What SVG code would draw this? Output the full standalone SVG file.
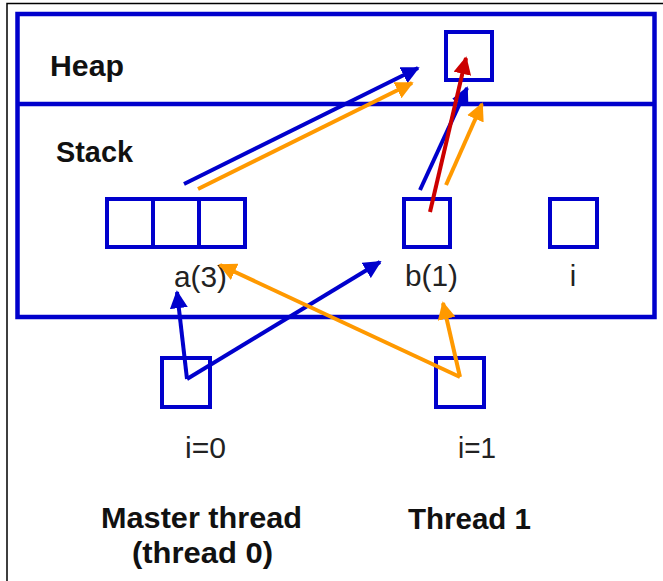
<svg xmlns="http://www.w3.org/2000/svg" width="663" height="581" viewBox="0 0 663 581">
<style>
.box{fill:none;stroke:#0000CC;stroke-width:4}
.frame{fill:none;stroke:#0000CC;stroke-width:4.5}
.lbl{font-family:"Liberation Sans",Arial,sans-serif;font-size:29px;fill:#222}
.bold{font-family:"Liberation Sans",Arial,sans-serif;font-size:29px;font-weight:bold;fill:#111}
.b{stroke:#0000CC;stroke-width:4;fill:none}
.o{stroke:#FF9900;stroke-width:4;fill:none}
.r{stroke:#CC0000;stroke-width:4;fill:none}
</style>
<defs>
<marker id="mb" viewBox="0 0 10 10" refX="9" refY="5" markerWidth="4.5" markerHeight="4.5" orient="auto" markerUnits="strokeWidth"><path d="M0,0L10,5L0,10z" fill="#0000CC"/></marker>
<marker id="mo" viewBox="0 0 10 10" refX="9" refY="5" markerWidth="4.5" markerHeight="4.5" orient="auto" markerUnits="strokeWidth"><path d="M0,0L10,5L0,10z" fill="#FF9900"/></marker>
<marker id="mr" viewBox="0 0 10 10" refX="9" refY="5" markerWidth="4.5" markerHeight="4.5" orient="auto" markerUnits="strokeWidth"><path d="M0,0L10,5L0,10z" fill="#CC0000"/></marker>
</defs>
<rect x="0" y="0" width="663" height="581" fill="#fff"/>
<rect x="7" y="3.5" width="700" height="620" fill="none" stroke="#000" stroke-width="1.5"/>
<g id="memory">
<rect class="frame" x="17.5" y="14" width="637" height="303"/>
<line class="frame" x1="17.5" y1="104" x2="654.5" y2="104"/>
<text class="bold" x="50" y="76" textLength="74" lengthAdjust="spacingAndGlyphs">Heap</text>
<text class="bold" x="56" y="162" textLength="77" lengthAdjust="spacingAndGlyphs">Stack</text>
</g>
<g id="heap-obj"><rect class="box" x="446" y="32" width="46" height="48"/></g>
<g id="a"><rect class="box" x="107" y="199" width="46" height="48"/><rect class="box" x="153" y="199" width="46" height="48"/><rect class="box" x="199" y="199" width="46" height="48"/><text class="lbl" x="174" y="287" textLength="53" lengthAdjust="spacingAndGlyphs">a(3)</text></g>
<g id="b"><rect class="box" x="404" y="199" width="46" height="48"/><text class="lbl" x="405" y="286" textLength="53" lengthAdjust="spacingAndGlyphs">b(1)</text></g>
<g id="i"><rect class="box" x="550" y="199" width="47" height="48"/><text class="lbl" x="573" y="286" text-anchor="middle">i</text></g>
<g id="master"><rect class="box" x="162" y="358" width="48" height="49"/><text class="lbl" x="185" y="458" textLength="41" lengthAdjust="spacingAndGlyphs">i=0</text><text class="bold" x="101" y="528" textLength="201" lengthAdjust="spacingAndGlyphs">Master thread</text><text class="bold" x="132" y="563" textLength="141" lengthAdjust="spacingAndGlyphs">(thread 0)</text></g>
<g id="thread1"><rect class="box" x="436" y="358" width="48" height="49"/><text class="lbl" x="458" y="458" textLength="38" lengthAdjust="spacingAndGlyphs">i=1</text><text class="bold" x="408" y="529" textLength="123" lengthAdjust="spacingAndGlyphs">Thread 1</text></g>
<g id="connectors">
<line class="b" x1="184" y1="184" x2="418" y2="68" marker-end="url(#mb)"/>
<line class="o" x1="198" y1="189" x2="412" y2="83" marker-end="url(#mo)"/>
<line class="b" x1="420" y1="190" x2="467" y2="88" marker-end="url(#mb)"/>
<line class="o" x1="446" y1="185" x2="482" y2="104" marker-end="url(#mo)"/>
<line class="r" x1="430" y1="212" x2="466" y2="58" marker-end="url(#mr)"/>
<line class="b" x1="187" y1="379" x2="177" y2="292" marker-end="url(#mb)"/>
<line class="b" x1="187" y1="379" x2="380" y2="262" marker-end="url(#mb)"/>
<line class="o" x1="460" y1="377" x2="220" y2="265" marker-end="url(#mo)"/>
<line class="o" x1="460" y1="377" x2="443" y2="303" marker-end="url(#mo)"/>
</g>
</svg>
